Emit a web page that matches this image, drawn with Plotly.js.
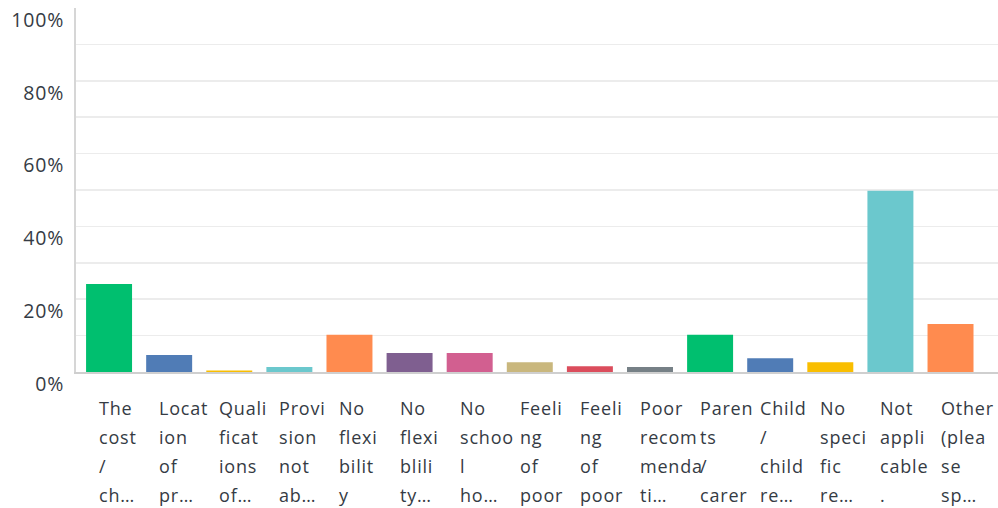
<!DOCTYPE html>
<html>
<head>
<meta charset="utf-8">
<script src="https://cdn.plot.ly/plotly-3.0.1.min.js"></script>
<style>
  html, body { margin: 0; padding: 0; background: #fff; }
  #chart { width: 998px; height: 508px; }
  .main-svg text { letter-spacing: 0.8px; }
</style>
</head>
<body>
<div id="chart"></div>
<script>
// Categories (wrapped/truncated as displayed in the chart)
const categoryIds = ["c1","c2","c3","c4","c5","c6","c7","c8","c9","c10","c11","c12","c13","c14","c15"];
const labelLines = [
  ["The", "cost", "/", "ch…"],
  ["Locat", "ion", "of", "pr…"],
  ["Quali", "ficat", "ions", "of…"],
  ["Provi", "sion", "not", "ab…"],
  ["No", "flexi", "bilit", "y"],
  ["No", "flexi", "blili", "ty…"],
  ["No", "schoo", "l", "ho…"],
  ["Feeli", "ng", "of", "poor"],
  ["Feeli", "ng", "of", "poor"],
  ["Poor", "recom", "menda", "ti…"],
  ["Paren", "ts", "/", "carer"],
  ["Child", "/", "child", "re…"],
  ["No", "speci", "fic", "re…"],
  ["Not", "appli", "cable", "."],
  ["Other", "(plea", "se", "sp…"]
];
// Percent of respondents
const values = [24.2, 4.7, 0.4, 1.4, 10.2, 5.2, 5.2, 2.7, 1.6, 1.4, 10.2, 3.8, 2.7, 49.8, 13.2];
const barColors = ["#00bf6f","#507cb6","#f9be00","#6bc8cd","#ff8b4f","#7f5f90","#d25f90","#c9b77d","#db4d5c","#768086","#00bf6f","#507cb6","#f9be00","#6bc8cd","#ff8b4f"];

const textColor = "#353b44";
const fontFamily = "'Open Sans', 'Noto Sans', sans-serif";

const annotations = [];
labelLines.forEach((lines, i) => {
  lines.forEach((ln, j) => {
    annotations.push({
      x: categoryIds[i], xref: "x",
      y: 0, yref: "paper",
      xanchor: "left", yanchor: "top",
      xshift: -12,
      yshift: -22 - j * 29,
      text: ln,
      showarrow: false,
      align: "left",
      font: { family: fontFamily, size: 18, color: textColor }
    });
  });
});

const trace = {
  type: "bar",
  x: categoryIds,
  y: values,
  marker: { color: barColors, line: { width: 0 } },
  hoverinfo: "none"
};

const layout = {
  width: 998, height: 508,
  margin: { l: 76, r: 0, t: 8, b: 136, pad: 0 },
  paper_bgcolor: "#ffffff",
  plot_bgcolor: "#ffffff",
  bargap: 0.235,
  showlegend: false,
  font: { family: fontFamily, size: 18, color: textColor },
  xaxis: {
    type: "category",
    range: [-0.55, 14.79],
    showticklabels: false,
    ticks: "",
    showgrid: false,
    zeroline: false,
    showline: true,
    linecolor: "#cfcfcf",
    linewidth: 2,
    fixedrange: true
  },
  yaxis: {
    range: [0, 100],
    dtick: 20,
    tick0: 0,
    ticksuffix: "%",
    ticks: "",
    ticklabelshift: 12,
    ticklabelstandoff: 6,
    tickfont: { family: fontFamily, size: 19.5, color: textColor },
    showgrid: true,
    gridcolor: "#ececec",
    gridwidth: 1.5,
    minor: { dtick: 10, showgrid: true, gridcolor: "#ececec", gridwidth: 1.5, ticks: "" },
    zeroline: false,
    showline: true,
    linecolor: "#d6d6d6",
    linewidth: 2,
    fixedrange: true
  },
  annotations: annotations
};

Plotly.newPlot("chart", [trace], layout, { displayModeBar: false, staticPlot: true });
</script>
</body>
</html>
